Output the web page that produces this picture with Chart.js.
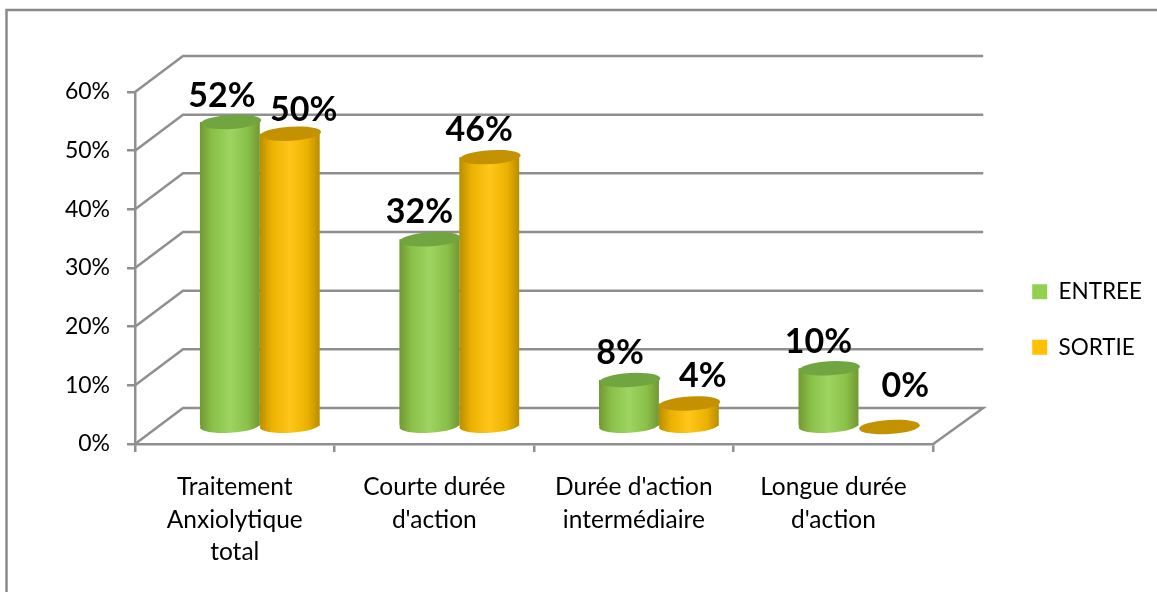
<!DOCTYPE html>
<html><head><meta charset="utf-8">
<style>html,body{margin:0;padding:0;background:#fff;overflow:hidden}#w{width:1157px;height:592px;position:relative}</style>
<script src="https://cdn.jsdelivr.net/npm/chart.js@4"></script>
</head><body><div id="w"><canvas id="c" width="1157" height="592"></canvas></div>
<script>
const categories = [["Traitement","Anxiolytique","total"],["Courte durée","d'action"],["Durée d'action","intermédiaire"],["Longue durée","d'action"]];
const entree = [52, 32, 8, 10];
const sortie = [50, 46, 4, 0];
const yTicks = [0, 10, 20, 30, 40, 50, 60];

// label placement relative to the top of each cylinder (style only)
const nudge = [
  [[-8,-26],[-10,-27],[-9,-27],[-10,-26]],
  [[14,-24],[-10,-27],[14,-28],[17,-41]]
];
const GRID = '#8f8f8f', FONT = 'Lato';
const DEPTH_X = 48, DEPTH_Y = 36, BAR_DX = 25, BAR_DY = 17;
const caps = ['#70a53f', '#c49200'];

function ell(ctx, x, y, rx, ry, fill) {
  ctx.save(); ctx.beginPath();
  ctx.ellipse(x, y, rx, ry, -3.5 * Math.PI / 180, 0, Math.PI * 2);
  ctx.fillStyle = fill; ctx.fill(); ctx.restore();
}
const scene = {
  id: 'scene',
  beforeDraw(chart) {
    const c = chart.ctx; c.save();
    c.strokeStyle = '#8a8a8a'; c.lineWidth = 2.5;
    c.beginPath(); c.moveTo(6.5, 600); c.lineTo(6.5, 10); c.lineTo(1160, 10); c.stroke();
    c.restore();
  },
  beforeDatasetsDraw(chart) {
    const c = chart.ctx, y = chart.scales.y, a = chart.chartArea;
    c.save(); c.strokeStyle = GRID; c.lineWidth = 2.5; c.lineJoin = 'miter';
    yTicks.forEach(v => {
      const p = y.getPixelForValue(v);
      c.beginPath(); c.moveTo(a.left, p); c.lineTo(a.left + DEPTH_X, p - DEPTH_Y);
      c.lineTo(a.right + DEPTH_X + 2, p - DEPTH_Y);
      if (v === 0) c.lineTo(a.right, p);
      c.stroke();
    });
    c.restore();
  },
  beforeDatasetDraw(chart, args) {
    const c = chart.ctx, meta = args.meta;
    c.save(); c.translate(BAR_DX, -BAR_DY);
    meta.data.forEach(el => {
      if (el.base - el.y > 0.5) ell(c, el.x, el.base, el.width / 2, 7, chart.data.datasets[args.index].backgroundColor);
    });
  },
  afterDatasetDraw(chart, args) {
    const c = chart.ctx, meta = args.meta;
    meta.data.forEach(el => {
      const w = el.width, l = el.x - w / 2;
      if (el.base - el.y > 0.5) {
        const g = c.createLinearGradient(l, 0, l + w, 0);
        g.addColorStop(0, 'rgba(60,50,0,0.36)');
        g.addColorStop(0.2, 'rgba(60,50,0,0.10)');
        g.addColorStop(0.5, 'rgba(255,255,255,0.10)');
        g.addColorStop(0.8, 'rgba(60,50,0,0.10)');
        g.addColorStop(1, 'rgba(60,50,0,0.36)');
        c.fillStyle = g;
        c.beginPath();
        c.rect(l, el.y, w, el.base - el.y);
        c.ellipse(el.x, el.base, w / 2, 7, -3.5 * Math.PI / 180, 0, Math.PI * 2);
        c.fill('nonzero');
      }
      ell(c, el.x + 1, el.y, w / 2 + 0.5, 7, caps[args.index]);
    });
    c.restore();
  },
  afterDatasetsDraw(chart) {
    const c = chart.ctx;
    c.save(); c.font = 'bold 34px ' + FONT; c.fillStyle = '#000';
    c.textAlign = 'center'; c.textBaseline = 'middle';
    chart.data.datasets.forEach((ds, i) => {
      chart.getDatasetMeta(i).data.forEach((el, j) => {
        c.fillText(ds.data[j] + '%', el.x + BAR_DX + nudge[i][j][0], el.y - BAR_DY + nudge[i][j][1]);
      });
    });
    c.restore();
  }
};

new Chart(document.getElementById('c'), {
  type: 'bar',
  data: { labels: categories, datasets: [
    { label: 'ENTREE', data: entree, backgroundColor: '#92d050', borderWidth: 0 },
    { label: 'SORTIE', data: sortie, backgroundColor: '#ffc000', borderWidth: 0 }
  ]},
  plugins: [scene],
  options: {
    responsive: false, animation: false,
    layout: { padding: { top: 47, bottom: 0, left: 0, right: 5 } },
    datasets: { bar: { categoryPercentage: 0.6, barPercentage: 1 } },
    scales: {
      x: {
        grid: { drawOnChartArea: false, color: GRID, lineWidth: 2.5, tickLength: 8, offset: true },
        border: { color: GRID, width: 2.5 },
        ticks: { color: '#000', font: { family: FONT, size: 24.5, lineHeight: 1.33 }, padding: 19, maxRotation: 0, autoSkip: false },
        afterFit(s) { s.height = 148; }
      },
      y: {
        min: 0, max: 60,
        grid: { drawOnChartArea: false, color: GRID, lineWidth: 2.5, tickLength: 8 },
        border: { color: GRID, width: 2.5 },
        ticks: { stepSize: 10, color: '#000', font: { family: FONT, size: 23 }, padding: 17, callback: v => v + '%' },
        afterFit(s) { s.width = 135; }
      },
      spacer: {
        axis: 'y', position: 'right', display: true, min: 0, max: 1,
        grid: { display: false }, border: { display: false }, ticks: { display: false },
        afterFit(s) { s.width = 66; }
      },
      topSpacer: {
        axis: 'x', position: 'top', display: true, type: 'linear', min: 0, max: 1,
        grid: { display: false }, border: { display: false }, ticks: { display: false },
        afterFit(s) { s.height = 45; }
      }
    },
    plugins: {
      tooltip: { enabled: false },
      legend: { position: 'right', labels: { boxWidth: 15, boxHeight: 15, padding: 33, color: '#000', font: { family: FONT, size: 22.5 } } }
    }
  }
});
</script></body></html>
